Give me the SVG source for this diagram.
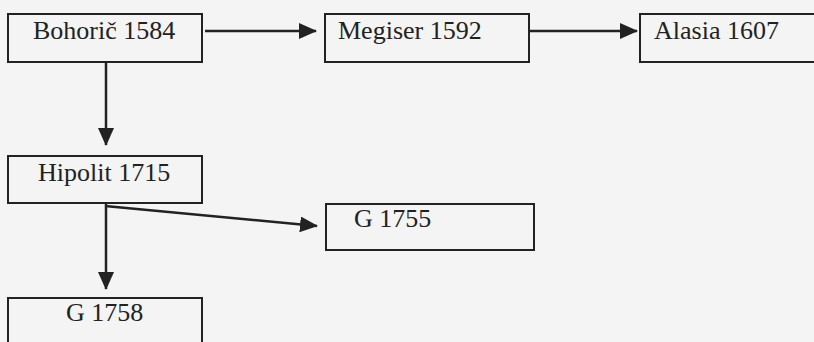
<svg xmlns="http://www.w3.org/2000/svg" width="814" height="342" viewBox="0 0 814 342">
  <style>
    .box { fill: none; stroke: #222; stroke-width: 2; }
    .lbl { font-family: "Liberation Serif", "Times New Roman", serif; font-size: 26px; fill: #222; }
    .edge { stroke: #222; stroke-width: 2.5; fill: none; marker-end: url(#arrow); }
  </style>
  <defs>
    <marker id="arrow" markerUnits="userSpaceOnUse" markerWidth="18" markerHeight="16" viewBox="0 0 18 16" refX="17" refY="8" orient="auto">
      <path d="M0,0 L18,8 L0,16 z" fill="#222"/>
    </marker>
  </defs>
  <rect width="814" height="342" fill="#f4f4f4"/>

  <g id="connectors">
    <line class="edge" x1="205" y1="31" x2="316" y2="31"/>
    <line class="edge" x1="530" y1="31" x2="637" y2="31"/>
    <line class="edge" x1="106" y1="62" x2="106" y2="145"/>
    <line class="edge" x1="106" y1="204" x2="106" y2="289"/>
    <line class="edge" x1="105" y1="206" x2="317" y2="226"/>
  </g>

  <g id="bohoric">
    <rect class="box" x="8" y="14" width="194" height="48"/>
    <text class="lbl" x="33" y="39">Bohorič 1584</text>
  </g>
  <g id="megiser">
    <rect class="box" x="325" y="14" width="204" height="48"/>
    <text class="lbl" x="338" y="39">Megiser 1592</text>
  </g>
  <g id="alasia">
    <rect class="box" x="640" y="14" width="200" height="48"/>
    <text class="lbl" x="654" y="39">Alasia 1607</text>
  </g>
  <g id="hipolit">
    <rect class="box" x="8" y="156" width="194" height="47"/>
    <text class="lbl" x="38" y="181">Hipolit 1715</text>
  </g>
  <g id="g1755">
    <rect class="box" x="326" y="204" width="208" height="46"/>
    <text class="lbl" x="354" y="227">G 1755</text>
  </g>
  <g id="g1758">
    <rect class="box" x="8" y="298" width="194" height="60"/>
    <text class="lbl" x="66" y="321">G 1758</text>
  </g>
</svg>
